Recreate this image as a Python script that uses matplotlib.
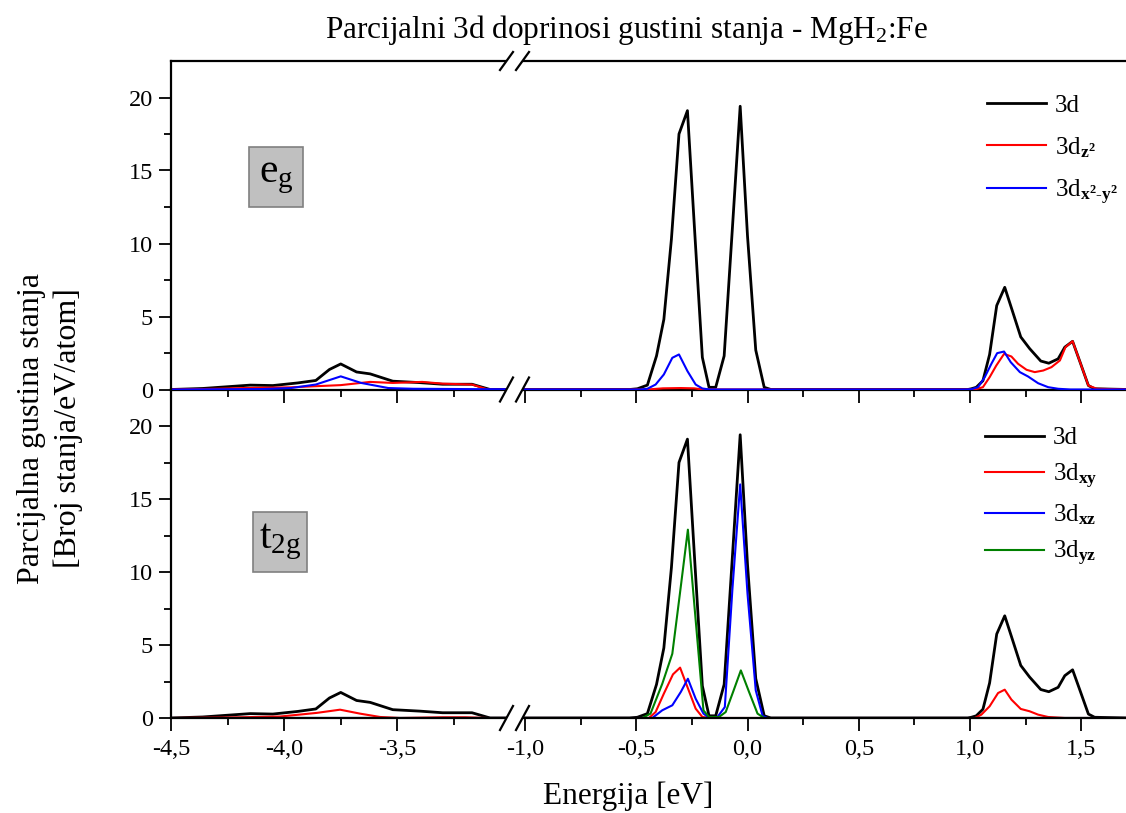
import matplotlib
matplotlib.use("Agg")
import matplotlib.pyplot as plt
from matplotlib.lines import Line2D
from matplotlib.patches import Rectangle, Polygon
from matplotlib.ticker import FixedLocator, FixedFormatter

plt.rcParams['font.family'] = ['Liberation Serif', 'DejaVu Serif']
plt.rcParams['mathtext.fontset'] = 'custom'
plt.rcParams['mathtext.rm'] = 'Liberation Serif'
plt.rcParams['mathtext.it'] = 'Liberation Serif:italic'
plt.rcParams['mathtext.bf'] = 'Liberation Serif:bold'

# ---------------- data: partial 3d DOS of Fe in MgH2 ----------------
# total 3d (same curve in both panels)
e_3d = [-4.50, -4.36, -4.15, -4.05, -3.94, -3.86, -3.80, -3.75, -3.68, -3.62,
        -3.52, -3.40, -3.30, -3.17, -3.09, -3.00,
        -1.05, -0.53, -0.495, -0.45, -0.409, -0.376, -0.342, -0.308, -0.270,
        -0.237, -0.203, -0.173, -0.143, -0.105, -0.069, -0.033, 0.000, 0.037,
        0.075, 0.105, 0.99, 1.006, 1.028, 1.058, 1.088, 1.120, 1.156, 1.190,
        1.228, 1.268, 1.318, 1.354, 1.396, 1.426, 1.461, 1.494, 1.532, 1.560, 1.71]
dos_3d = [0.00, 0.07, 0.30, 0.27, 0.45, 0.62, 1.37, 1.75, 1.20, 1.07,
          0.57, 0.47, 0.36, 0.36, 0.00, 0.00,
          0.00, 0.00, 0.05, 0.30, 2.30, 4.80, 10.3, 17.5, 19.1,
          10.7, 2.20, 0.15, 0.15, 2.30, 10.8, 19.4, 10.5, 2.70,
          0.15, 0.00, 0.00, 0.05, 0.15, 0.60, 2.40, 5.75, 7.00, 5.40,
          3.60, 2.80, 1.95, 1.80, 2.10, 2.90, 3.30, 1.90, 0.27, 0.05, 0.00]

# e_g orbitals
e_z2 = [-4.50, -4.30, -4.18, -3.97, -3.75, -3.62, -3.52, -3.39, -3.30, -3.17,
        -3.10, -0.45, -0.38, -0.30, -0.24, -0.20, 1.021, 1.058, 1.088, 1.118,
        1.153, 1.186, 1.216, 1.254, 1.291, 1.329, 1.366, 1.404, 1.429, 1.461,
        1.494, 1.532, 1.570, 1.71]
dos_z2 = [0.00, 0.05, 0.10, 0.15, 0.30, 0.52, 0.45, 0.52, 0.40, 0.34,
          0.00, 0.00, 0.08, 0.10, 0.08, 0.00, 0.00, 0.16, 0.84, 1.64,
          2.44, 2.26, 1.76, 1.35, 1.19, 1.30, 1.53, 1.99, 2.90, 3.31,
          1.90, 0.27, 0.05, 0.00]

e_x2y2 = [-4.50, -4.10, -3.97, -3.86, -3.75, -3.66, -3.54, -3.43, -3.10,
          -0.48, -0.45, -0.413, -0.376, -0.338, -0.308, -0.270, -0.233, -0.203,
          -0.17, 0.98, 1.006, 1.036, 1.066, 1.096, 1.122, 1.153, 1.183, 1.224,
          1.261, 1.306, 1.351, 1.396, 1.45, 1.71]
dos_x2y2 = [0.00, 0.03, 0.10, 0.34, 0.90, 0.45, 0.10, 0.05, 0.02,
            0.00, 0.05, 0.34, 1.03, 2.17, 2.40, 1.26, 0.34, 0.07,
            0.00, 0.00, 0.02, 0.16, 0.84, 1.76, 2.49, 2.60, 1.87, 1.19,
            0.89, 0.43, 0.16, 0.05, 0.00, 0.00]

# t_2g orbitals
e_xy = [-4.50, -4.194, -4.018, -3.856, -3.753, -3.665, -3.576, -3.488, -3.30,
        -3.20, -3.10, -0.443, -0.413, -0.376, -0.335, -0.303, -0.270, -0.233,
        -0.203, -0.17, 1.021, 1.051, 1.088, 1.126, 1.156, 1.186, 1.228, 1.268,
        1.306, 1.351, 1.426, 1.71]
dos_xy = [0.00, 0.05, 0.10, 0.35, 0.57, 0.30, 0.07, 0.00, 0.05,
          0.05, 0.00, 0.00, 0.41, 1.67, 2.99, 3.45, 2.12, 0.64,
          0.07, 0.00, 0.00, 0.23, 0.80, 1.71, 1.94, 1.26, 0.62, 0.46,
          0.23, 0.07, 0.00, 0.00]

e_xz = [-4.50, -0.428, -0.383, -0.338, -0.300, -0.268, -0.233, -0.198, -0.173,
        -0.135, -0.102, -0.068, -0.033, 0.000, 0.037, 0.068, 0.09, 1.71]
dos_xz = [0.00, 0.00, 0.53, 0.87, 1.78, 2.69, 1.32, 0.30, 0.02,
          0.07, 0.75, 8.80, 16.0, 8.50, 1.89, 0.14, 0.00, 0.00]

e_yz = [-4.50, -0.473, -0.436, -0.383, -0.338, -0.304, -0.268, -0.233, -0.198,
        -0.173, -0.128, -0.098, -0.065, -0.030, 0.007, 0.045, 0.075, 1.71]
dos_yz = [0.00, 0.00, 0.30, 2.35, 4.40, 8.50, 12.9, 6.70, 0.52,
          0.07, 0.07, 0.41, 1.78, 3.26, 1.78, 0.30, 0.00, 0.00]

# axis segments and ticks
seg_left = (-4.5, -2.98)
seg_right = (-1.045, 1.71)
ticks_left = [-4.5, -4.0, -3.5]
labels_left = ['-4,5', '-4,0', '-3,5']
minor_left = [-4.25, -3.75, -3.25]
ticks_right = [-1.0, -0.5, 0.0, 0.5, 1.0, 1.5]
labels_right = ['-1,0', '-0,5', '0,0', '0,5', '1,0', '1,5']
minor_right = [-0.75, -0.25, 0.25, 0.75, 1.25]
y_ticks = [0, 5, 10, 15, 20]
y_minor = [2.5, 7.5, 12.5, 17.5]

top_series = [(e_3d, dos_3d, 'black', '3d', 2.0),
              (e_z2, dos_z2, '#ff0000', r'3d$_{\mathbf{z^2}}$', 1.5),
              (e_x2y2, dos_x2y2, '#0000ff', r'3d$_{\mathbf{x^2}\text{-}\mathbf{y^2}}$', 1.5)]
bottom_series = [(e_3d, dos_3d, 'black', '3d', 2.0),
                 (e_xy, dos_xy, '#ff0000', r'3d$_{\mathbf{xy}}$', 1.5),
                 (e_xz, dos_xz, '#0000ff', r'3d$_{\mathbf{xz}}$', 1.5),
                 (e_yz, dos_yz, '#008000', r'3d$_{\mathbf{yz}}$', 1.5)]

# ---------------- layout (pixel geometry) ----------------
W, H = 1126, 813
fig = plt.figure(figsize=(W / 100, H / 100), dpi=100)


def fx(px):
    return px / W


def fy(py):
    return 1 - py / H


x0, xb, x1 = 171, 515, 1128
y_top, y_mid, y_bot = 61, 389.5, 718

axes = {}
for row, (ya, yb) in enumerate([(y_top, y_mid), (y_mid, y_bot)]):
    for col, (xa, xc) in enumerate([(x0, xb), (xb, x1)]):
        ax = fig.add_axes([fx(xa), fy(yb), (xc - xa) / W, (yb - ya) / H])
        ax.patch.set_visible(False)
        axes[(row, col)] = ax

SPINE_W = 1.6
for (row, col), ax in axes.items():
    series = top_series if row == 0 else bottom_series
    for e, d, c, lab, lw in series:
        ax.plot(e, d, color=c, lw=lw, label=lab, zorder=3 if row == 0 else 2)
    ax.set_xlim(seg_left if col == 0 else seg_right)
    ax.set_ylim(0, 22.5)
    for s in ax.spines.values():
        s.set_linewidth(SPINE_W)
    ax.spines['right'].set_visible(False)
    if col == 1:
        ax.spines['left'].set_visible(False)
    if row == 1:
        ax.spines['top'].set_visible(False)

    if col == 0:
        ax.xaxis.set_major_locator(FixedLocator(ticks_left))
        ax.xaxis.set_major_formatter(FixedFormatter(labels_left))
        ax.xaxis.set_minor_locator(FixedLocator(minor_left))
        ax.yaxis.set_major_locator(FixedLocator(y_ticks))
        ax.yaxis.set_minor_locator(FixedLocator(y_minor))
        ax.tick_params(axis='y', which='both', direction='out', left=True,
                       right=False, width=1.3, labelsize=17.5, pad=4)
        ax.tick_params(axis='y', which='major', length=9)
        ax.tick_params(axis='y', which='minor', length=5)
    else:
        ax.xaxis.set_major_locator(FixedLocator(ticks_right))
        ax.xaxis.set_major_formatter(FixedFormatter(labels_right))
        ax.xaxis.set_minor_locator(FixedLocator(minor_right))
        ax.tick_params(axis='y', which='both', left=False, right=False,
                       labelleft=False)
    ax.tick_params(axis='x', which='both', direction='out', top=False,
                   width=1.3, labelsize=17.5, pad=6)
    ax.tick_params(axis='x', which='major', length=9)
    ax.tick_params(axis='x', which='minor', length=5)
    if row == 0:
        ax.tick_params(axis='x', which='both', labelbottom=False)

# legends
leg_kw = dict(loc='upper left', frameon=False, fontsize=18, handlelength=2.35,
              handletextpad=0.35, borderaxespad=0, borderpad=0)
axes[(0, 1)].legend(bbox_to_anchor=(0.770, 0.898), labelspacing=0.72, **leg_kw)
axes[(1, 1)].legend(bbox_to_anchor=(0.767, 0.886), labelspacing=0.48, **leg_kw)

# orbital-group tags
for ax, txt, (bx, by) in [(axes[(0, 0)], r'e$_{\mathrm{g}}$', (249, 147)),
                          (axes[(1, 0)], r't$_{\mathrm{2g}}$', (253, 512))]:
    rect = Rectangle((fx(bx), fy(by + 60)), 54 / W, 60 / H,
                     transform=fig.transFigure, facecolor='#c0c0c0',
                     edgecolor='#808080', lw=1.2, zorder=5)
    fig.add_artist(rect)
    fig.text(fx(bx + 27), fy(by + 30), txt, ha='center', va='center',
             fontsize=30, zorder=6)

# axis-break marks
for yc, h in [(y_top, 9), (y_mid, 12), (y_bot, 12)]:
    xs1 = (xb - 15, xb - 2)
    xs2 = (xb + 1, xb + 14)
    fill = Polygon([(fx(xs1[0]), fy(yc + h)), (fx(xs1[1]), fy(yc - h)),
                    (fx(xs2[1]), fy(yc - h)), (fx(xs2[0]), fy(yc + h))],
                   closed=True, transform=fig.transFigure, facecolor='white',
                   edgecolor='none', zorder=7)
    fig.add_artist(fill)
    for xs in (xs1, xs2):
        fig.add_artist(Line2D([fx(xs[0]), fx(xs[1])], [fy(yc + h), fy(yc - h)],
                              transform=fig.transFigure, color='black',
                              lw=1.6, zorder=8))

# titles and axis labels
fig.text(fx(627), fy(30), r'Parcijalni 3d doprinosi gustini stanja - MgH$_2$:Fe',
         ha='center', va='center', fontsize=22.5)
fig.text(fx(50), fy(428), 'Parcijalna gustina stanja\n[Broj stanja/eV/atom]',
         rotation=90, ha='center', va='center', fontsize=23, linespacing=1.3,
         multialignment='center')
fig.text(fx(628), fy(796), 'Energija [eV]', ha='center', va='center', fontsize=22.5)

fig.savefig('out.png', dpi=100)
